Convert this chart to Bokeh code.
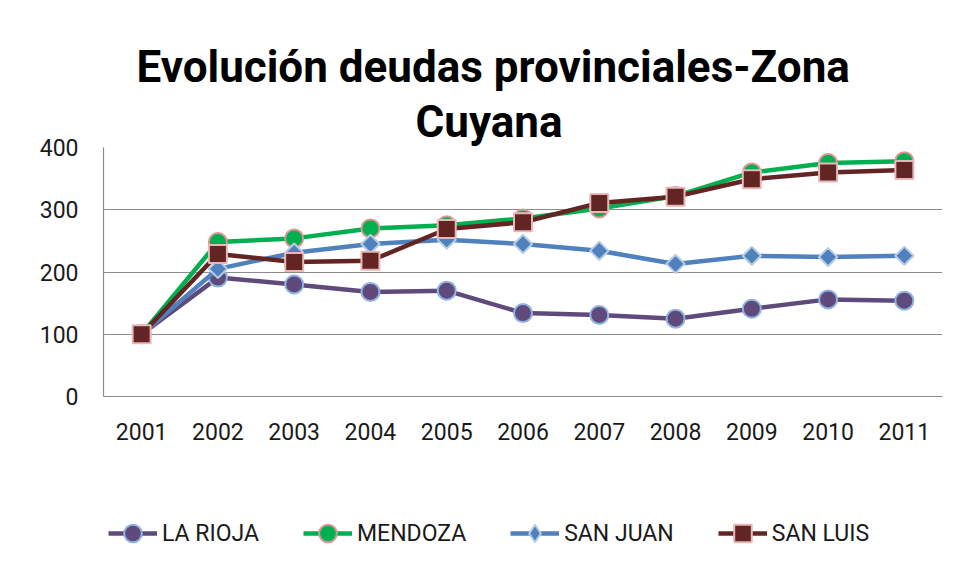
import math
from bokeh.plotting import figure
from bokeh.layouts import column
from bokeh.models import Range1d, FactorRange, FixedTicker, Legend, LegendItem, Title
from bokeh.embed import file_html
from bokeh.resources import INLINE

years = ["2001", "2002", "2003", "2004", "2005", "2006", "2007", "2008", "2009", "2010", "2011"]
la_rioja = [100, 191, 180, 168, 170, 134, 131, 125, 141, 156, 154]
mendoza = [100, 248, 254, 270, 275, 286, 302, 322, 360, 375, 378]
san_juan = [100, 205, 231, 245, 252, 245, 234, 213, 226, 224, 226]
san_luis = [100, 229, 216, 218, 269, 280, 311, 321, 349, 360, 364]
y_ticks = [0, 100, 200, 300, 400]
title_lines = ["Evolución deudas provinciales-Zona", "Cuyana"]

FONT = "Roboto"

p = figure(
    width=947, height=460, title=None,
    x_range=FactorRange(*years),
    y_range=Range1d(0, 400),
    output_backend="svg", toolbar_location=None,
    min_border_left=103, min_border_right=5, min_border_top=147, min_border_bottom=64,
)
p.x_range.range_padding = 0
p.x_range.factor_padding = 0

# titles: first added sits closest to the frame
title_offsets = [33, 312]
for i, (txt, off) in enumerate(reversed(list(zip(title_lines, title_offsets)))):
    t = Title(text=txt, align="left", text_font=FONT, text_font_style="bold",
              text_font_size="44px", text_color="#000000", offset=off,
              standoff=0 if i == 0 else 2)
    p.add_layout(t, "above")

p.outline_line_color = None
p.background_fill_color = "white"
p.border_fill_color = "white"

p.xgrid.grid_line_color = None
p.ygrid.grid_line_color = "#8c8c8c"
p.ygrid.grid_line_width = 1.2
p.yaxis.ticker = FixedTicker(ticks=y_ticks)

for ax in (p.xaxis[0], p.yaxis[0]):
    ax.axis_line_color = "#8c8c8c"
    ax.axis_line_width = 1.2
    ax.major_tick_line_color = None
    ax.minor_tick_line_color = None
    ax.major_tick_out = 0
    ax.major_tick_in = 0
    ax.major_label_text_font = FONT
    ax.major_label_text_font_size = "23px"
    ax.major_label_text_color = "#1a1a1a"
p.yaxis.major_label_standoff = 25
p.xaxis.major_label_standoff = 26

series = [
    ("LA RIOJA", la_rioja, "#604A7B", "circle", 18, "#8EB4E3", 0, "circle"),
    ("MENDOZA", mendoza, "#00B050", "circle", 18, "#D99694", 0, "circle"),
    ("SAN JUAN", san_juan, "#4F81BD", "square", 13, "#B9CDE5", math.pi / 4, "diamond"),
    ("SAN LUIS", san_luis, "#632523", "square", 18, "#E6B9B8", 0, "square"),
]

for name, vals, col, marker, size, outline, ang, _ in series:
    p.line(years, vals, line_color=col, line_width=4.5)
    p.scatter(years, vals, marker=marker, size=size, angle=ang,
              fill_color=col, line_color=outline, line_width=2)

# legend strip: same series drawn out of view, only the legend shows
lf = figure(
    width=947, height=98, title=None,
    x_range=FactorRange(*years), y_range=Range1d(-20, -10),
    output_backend="svg", toolbar_location=None,
    x_axis_location=None, y_axis_location=None,
    min_border=0,
)
lf.outline_line_color = None
lf.xgrid.grid_line_color = None
lf.ygrid.grid_line_color = None

items = []
for name, vals, col, marker, size, outline, ang, lmarker in series:
    ln = lf.line(years, vals, line_color=col, line_width=4.5)
    sc = lf.scatter(years, vals, marker=lmarker, size=size,
                    fill_color=col, line_color=outline, line_width=2)
    items.append(LegendItem(label=name, renderers=[ln, sc]))

legend = Legend(items=items, orientation="horizontal", location=(5, 3))
legend.label_text_font = FONT
legend.label_text_font_size = "23px"
legend.label_text_color = "#1a1a1a"
legend.glyph_width = 49
legend.glyph_height = 44
legend.label_standoff = 5
legend.spacing = 44
legend.padding = 0
legend.margin = 0
legend.border_line_color = None
legend.background_fill_alpha = 0
lf.add_layout(legend, "center")

layout = column(p, lf, spacing=0)
open("out.html", "w").write(file_html(layout, INLINE))
